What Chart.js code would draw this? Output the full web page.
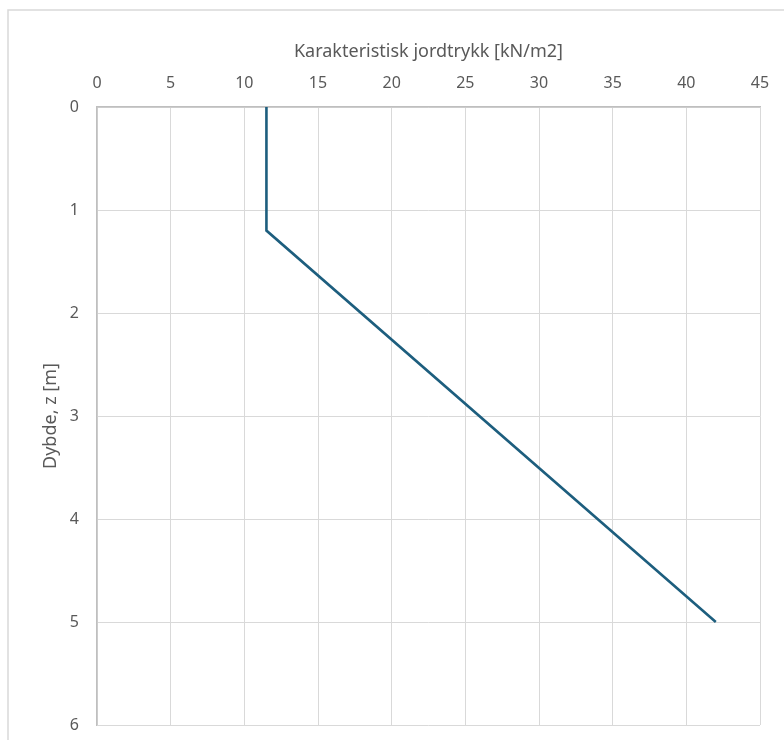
<!doctype html>
<html lang="no">
  <head>
    <meta charset="utf-8">
    <title>Karakteristisk jordtrykk</title>
    <script src="https://cdn.jsdelivr.net/npm/chart.js@4.4.1/dist/chart.umd.min.js"></script>
    <style>
      html, body { margin: 0; padding: 0; background: #fff; }
      #wrap { width: 784px; height: 740px; }
    </style>
  </head>
  <body>
<div id="wrap"><canvas id="jordtrykk" width="784" height="740"></canvas></div>

<script>
// data
var trykk = [11.5, 11.5, 42];   // kN/m2
var dybde = [0, 1.2, 5];        // m
var xTicks = [0, 5, 10, 15, 20, 25, 30, 35, 40, 45];
var yTicks = [0, 1, 2, 3, 4, 5, 6];

var points = trykk.map(function (v, i) { return { x: v, y: dybde[i] }; });

// outer frame like the excel chart area
var frame = {
  id: "frame",
  beforeDraw: function (chart) {
    var c = chart.ctx;
    c.save();
    c.fillStyle = "#fff";
    c.fillRect(0, 0, chart.width, chart.height);
    c.strokeStyle = "#d9d9d9";
    c.lineWidth = 1.5;
    c.strokeRect(8, 10, 900, 900);
    c.restore();
  }
};

var tickFont = { family: "'Noto Sans', sans-serif", size: 16 };
var titleFont = { family: "'Noto Sans', sans-serif", size: 18 };

var ctx = document.getElementById("jordtrykk").getContext("2d");
var chart = new Chart(ctx, {
  type: "scatter",
  data: {
    datasets: [{
      data: points,
      showLine: true,
      borderColor: "#1d5e7e",
      borderWidth: 2.6,
      pointRadius: 0,
      fill: false
    }]
  },
  options: {
    responsive: false,
    animation: false,
    layout: { autoPadding: false, padding: { left: 8, top: 10, right: 24, bottom: 15 } },
    plugins: { legend: { display: false }, tooltip: { enabled: false } },
    scales: {
      x: {
        type: "linear",
        position: "top",
        min: 0,
        max: 45,
        afterBuildTicks: function (s) { s.ticks = xTicks.map(function (v) { return { value: v }; }); },
        afterFit: function (s) { s.height = 97; s.paddingLeft = 0; s.paddingRight = 0; },
        grid: { color: "#d9d9d9", lineWidth: 1, drawTicks: false },
        border: { color: "#bfbfbf", width: 1.5 },
        ticks: { color: "#595959", font: tickFont, padding: 14, maxRotation: 0 },
        title: {
          display: true,
          text: "Karakteristisk jordtrykk [kN/m2]",
          color: "#595959",
          font: titleFont,
          padding: { top: 31, bottom: 0 }
        }
      },
      y: {
        type: "linear",
        reverse: true,
        min: 0,
        max: 6,
        afterBuildTicks: function (s) { s.ticks = yTicks.map(function (v) { return { value: v }; }); },
        afterFit: function (s) { s.width = 89; s.paddingTop = 0; s.paddingBottom = 0; },
        grid: { color: "#d9d9d9", lineWidth: 1, drawTicks: false },
        border: { color: "#bfbfbf", width: 1.5 },
        ticks: { color: "#595959", font: tickFont, padding: 18 },
        title: {
          display: true,
          text: "Dybde, z [m]",
          color: "#595959",
          font: titleFont,
          padding: { top: 32, bottom: 0 }
        }
      }
    }
  },
  plugins: [frame]
});
</script>
  </body>
</html>
